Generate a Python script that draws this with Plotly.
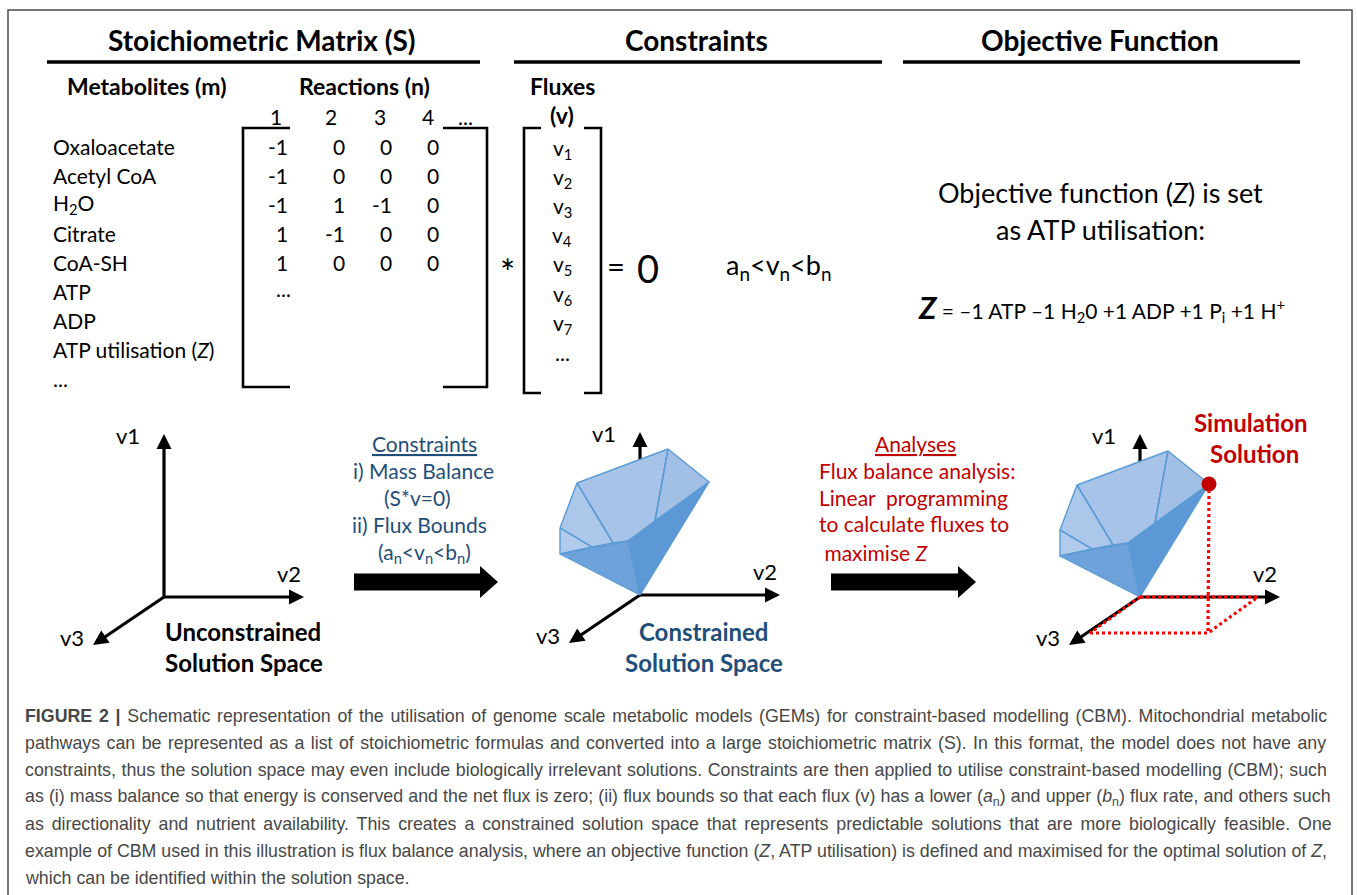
import math
import plotly.graph_objects as go

# ---------------- data ----------------
section_titles = ["Stoichiometric Matrix (S)", "Constraints", "Objective Function"]
sub_headers = ["Metabolites (m)", "Reactions (n)", "Fluxes", "(v)"]
metabolites = ["Oxaloacetate", "Acetyl CoA", "H<sub>2</sub>O", "Citrate", "CoA-SH",
               "ATP", "ADP", "ATP utilisation (<i>Z</i>)", "..."]
reactions = ["1", "2", "3", "4", "..."]
stoich_values = [
    [-1, 0, 0, 0],
    [-1, 0, 0, 0],
    [-1, 1, -1, 0],
    [1, -1, 0, 0],
    [1, 0, 0, 0],
]
stoich_more = "..."
fluxes = ["v<sub>1</sub>", "v<sub>2</sub>", "v<sub>3</sub>", "v<sub>4</sub>",
          "v<sub>5</sub>", "v<sub>6</sub>", "v<sub>7</sub>", "..."]
mass_balance_ops = ["*", "=", "0"]
bounds_text = "a<sub>n</sub>&lt;v<sub>n</sub>&lt;b<sub>n</sub>"
objective_lines = ["Objective function (<i>Z</i>) is set", "as ATP utilisation:"]
objective_equation = ("<span style='font-size:31px'><b><i>Z</i></b></span> = \u20131 ATP \u20131 H<sub>2</sub>0 "
                      "+1 ADP +1 P<sub>i</sub> +1 H<sup>+</sup>")
constraint_lines = ["<u>Constraints</u>", "i) Mass Balance", "(S*v=0)", "ii) Flux Bounds",
                    "(a<sub>n</sub>&lt;v<sub>n</sub>&lt;b<sub>n</sub>)"]
analysis_lines = ["<u>Analyses</u>", "Flux balance analysis:", "Linear  programming",
                  "to calculate fluxes to", " maximise <i>Z</i>"]
space_labels = [["Unconstrained", "Solution Space"], ["Constrained", "Solution Space"],
                ["Simulation", "Solution"]]
axis_names = ["v1", "v2", "v3"]
# polytope vertices (offsets from the diagram origin, screen units)
polytope_vertices = {
    "A": (28, -146), "B": (69, -113), "C": (-63, -112), "D": (-80, -67),
    "E": (-80, -41), "F": (0, 0), "G": (-12, -54), "P": (15, -74),
    "Q": (-27, -52), "R": (-48, -48),
}
polytope_faces = [
    ["C", "A", "P", "G", "Q"],
    ["A", "B", "P"],
    ["C", "Q", "R", "D"],
    ["D", "R", "E"],
    ["E", "G", "F"],
    ["G", "B", "F"],
]
polytope_ridges = [["C", "Q"], ["D", "R"], ["A", "P"]]
caption_lines = [
    "<b>FIGURE 2 |</b> Schematic representation of the utilisation of genome scale metabolic models (GEMs) for constraint-based modelling (CBM). Mitochondrial metabolic",
    "pathways can be represented as a list of stoichiometric formulas and converted into a large stoichiometric matrix (S). In this format, the model does not have any",
    "constraints, thus the solution space may even include biologically irrelevant solutions. Constraints are then applied to utilise constraint-based modelling (CBM); such",
    "as (i) mass balance so that energy is conserved and the net flux is zero; (ii) flux bounds so that each flux (v) has a lower (<i>a</i><sub>n</sub>) and upper (<i>b</i><sub>n</sub>) flux rate, and others such",
    "as directionality and nutrient availability. This creates a constrained solution space that represents predictable solutions that are more biologically feasible. One",
    "example of CBM used in this illustration is flux balance analysis, where an objective function (<i>Z</i>, ATP utilisation) is defined and maximised for the optimal solution of <i>Z</i>,",
    "which can be identified within the solution space.",
]

# ---------------- styles ----------------
W, H = 1357, 895
FONT = "Lato"
CAP_FONT = "Liberation Sans"
BLUE = "#1f4e79"
RED = "#c00000"
face_colors = ["#a7c4e8", "#a2c0e6", "#abc7ea", "#b0cbec", "#6ea2da", "#5b98d5"]
edge_color = "#5b9bd5"
caption_word_spacing = [1.8, 1.5, 0.6, 0.2, 3.0, 0.0, 0.0]

fig = go.Figure()
annotations = []


def txt(x, y, s, size, color="black", xanchor="center", family=FONT):
    annotations.append(dict(x=x, y=y, xref="x", yref="y", text=s, showarrow=False,
                            xanchor=xanchor, yanchor="middle",
                            font=dict(family=family, size=size, color=color)))


def add_line(xs, ys, color="black", width=3, dash="solid"):
    fig.add_trace(go.Scatter(x=xs, y=ys, mode="lines",
                             line=dict(color=color, width=width, dash=dash),
                             hoverinfo="skip", showlegend=False))


def add_poly(xs, ys, fill, edge=None, ew=0):
    fig.add_trace(go.Scatter(x=list(xs) + [xs[0]], y=list(ys) + [ys[0]], mode="lines",
                             fill="toself", fillcolor=fill,
                             line=dict(color=edge or fill, width=ew),
                             hoverinfo="skip", showlegend=False))


def axis_arrow(x0, y0, x1, y1, width=3.2, hl=15, hw=7.5):
    dx, dy = x1 - x0, y1 - y0
    L = math.hypot(dx, dy)
    ux, uy = dx / L, dy / L
    bx, by = x1 - ux * hl, y1 - uy * hl
    add_line([x0, bx + ux * 2], [y0, by + uy * 2], "black", width)
    nx, ny = -uy, ux
    add_poly([x1, bx + nx * hw, bx - nx * hw], [y1, by + ny * hw, by - ny * hw], "black")


def block_arrow(x0, x1, yc, hb=8.5, hh=16, hl=18):
    xh = x1 - hl
    add_poly([x0, xh, xh, x1, xh, xh, x0],
             [yc - hb, yc - hb, yc - hh, yc, yc + hh, yc + hb, yc + hb], "black")


# ---------------- frame ----------------
add_line([8, 8, 1352, 1352], [905, 10, 10, 905], "#4a4a4a", 1.5)

# ---------------- top section ----------------
title_x = [262, 696, 1100]
rule_x = [(47, 480), (514, 882), (903, 1300)]
for t, cx, (r0, r1) in zip(section_titles, title_x, rule_x):
    txt(cx, 40, "<b>%s</b>" % t, 28)
    add_line([r0, r1], [62, 62], "black", 3.5)

txt(146, 86, "<b>%s</b>" % sub_headers[0], 23)
txt(364, 86, "<b>%s</b>" % sub_headers[1], 23)
txt(562, 86, "<b>%s</b>" % sub_headers[2], 23)
txt(562, 115, "<b>%s</b>" % sub_headers[3], 23)

row_y0, row_dy = 146, 29.1
for i, m in enumerate(metabolites):
    txt(51, row_y0 + i * row_dy, m, 21, xanchor="left")

col_x = [276, 331, 380, 428, 465]
for r, cx in zip(reactions, col_x):
    txt(cx, 116, r, 21)

val_right = [290, 347, 394, 441]
for i, row in enumerate(stoich_values):
    for j, v in enumerate(row):
        txt(val_right[j], row_y0 + i * row_dy, str(v), 21, xanchor="right")
txt(283, row_y0 + 5 * row_dy - 3, stoich_more, 21)

# matrix brackets
mt, mb = 128, 387
add_line([290, 243, 243, 290], [mt, mt, mb, mb], "black", 2.6)
add_line([443, 487, 487, 443], [mt, mt, mb, mb], "black", 2.6)
ft, fb = 128, 393
add_line([541, 524, 524, 541], [ft, ft, fb, fb], "black", 2.6)
add_line([584, 601, 601, 584], [ft, ft, fb, fb], "black", 2.6)
for i, f in enumerate(fluxes):
    txt(562, 149 + i * 29.1, f, 21)

txt(507, 272, mass_balance_ops[0], 36)
txt(616, 266, mass_balance_ops[1], 31)
txt(648, 268, mass_balance_ops[2], 38)
txt(778, 266, bounds_text, 27)

txt(1100, 192, objective_lines[0], 27)
txt(1100, 229, objective_lines[1], 27)
txt(1101, 307, objective_equation, 21)

# ---------------- lower section ----------------
origins = [(164, 597), (640, 595), (1140, 597)]
axis_tips = [(0, -163), (140, 0), (-71, 48)]
label_off = [(-36, -162), (125, -24), (-92, 40)]

# diagram axes
for k, (ox, oy) in enumerate(origins):
    for (tx, ty) in axis_tips:
        axis_arrow(ox, oy, ox + tx, oy + ty)

# polytopes in diagrams 2 and 3
for (ox, oy) in origins[1:]:
    for face, col in zip(polytope_faces, face_colors):
        xs = [ox + polytope_vertices[v][0] for v in face]
        ys = [oy + polytope_vertices[v][1] for v in face]
        add_poly(xs, ys, col, edge_color, 1.4)
    for a, b in polytope_ridges:
        add_line([ox + polytope_vertices[a][0], ox + polytope_vertices[b][0]],
                 [oy + polytope_vertices[a][1], oy + polytope_vertices[b][1]], edge_color, 1.4)

# simulation solution projections (diagram 3)
ox, oy = origins[2]
bx, by = polytope_vertices["B"]
v2pt = (118, 0)
v3pt = (-50, 36)
corner = (v2pt[0] + v3pt[0], v2pt[1] + v3pt[1])
dot_style = dict(color="#ff0000", width=3.2, dash="3px,3px")
add_line([ox, ox + v2pt[0]], [oy, oy + v2pt[1]], **dot_style)
add_line([ox, ox + v3pt[0]], [oy, oy + v3pt[1]], **dot_style)
add_line([ox + v3pt[0], ox + corner[0], ox + v2pt[0]],
         [oy + v3pt[1], oy + corner[1], oy + v2pt[1]], **dot_style)
add_line([ox + bx, ox + corner[0]], [oy + by + 6, oy + corner[1]], **dot_style)
fig.add_trace(go.Scatter(x=[ox + bx], y=[oy + by], mode="markers",
                         marker=dict(size=15, color=RED), hoverinfo="skip", showlegend=False))

for (ox, oy) in origins:
    for name, (lx, ly) in zip(axis_names, label_off):
        txt(ox + lx, oy + ly, name, 22)

# solution space labels
txt(243, 631, "<b>%s</b>" % space_labels[0][0], 24)
txt(244, 662, "<b>%s</b>" % space_labels[0][1], 24)
txt(703, 631, "<b>%s</b>" % space_labels[1][0], 24, BLUE)
txt(704, 662, "<b>%s</b>" % space_labels[1][1], 24, BLUE)
txt(1251, 422, "<b>%s</b>" % space_labels[2][0], 24, RED)
txt(1254, 453, "<b>%s</b>" % space_labels[2][1], 24, RED)

# process arrows
block_arrow(354, 498, 582)
block_arrow(831, 976, 582)

c_x = [424, 423, 417, 419, 424]
c_y = [443, 470, 497, 524, 553]
for s, x, y in zip(constraint_lines, c_x, c_y):
    txt(x, y, s, 21, BLUE)

a_y = [443, 470, 497, 523, 552]
txt(915, a_y[0], analysis_lines[0], 21, RED)
for s, y in zip(analysis_lines[1:], a_y[1:]):
    txt(817, y, s, 21, RED, xanchor="left")

# ---------------- caption ----------------
for i, (line, ws) in enumerate(zip(caption_lines, caption_word_spacing)):
    s = "<span style='word-spacing:%.1fpx'>%s</span>" % (ws, line) if ws > 0 else line
    txt(23, 716 + i * 27, s, 17.8, "#474747", xanchor="left", family=CAP_FONT)

fig.update_layout(
    width=W, height=H, margin=dict(l=0, r=0, t=0, b=0),
    paper_bgcolor="white", plot_bgcolor="white", showlegend=False,
    xaxis=dict(range=[0, W], visible=False, fixedrange=True),
    yaxis=dict(range=[H, 0], visible=False, fixedrange=True),
    annotations=annotations,
)
fig.write_html("out.html", config={"displayModeBar": False},
               post_script="document.body.style.margin='0px';document.body.style.overflow='hidden';")
